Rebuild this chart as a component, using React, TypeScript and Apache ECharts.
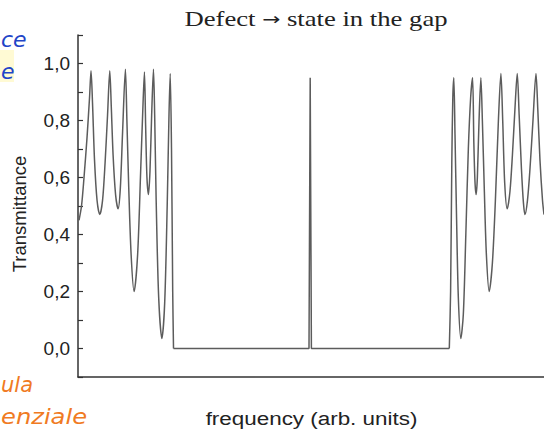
import React, { useEffect, useRef } from "react";
import * as echarts from "echarts";

// Frequency (arb. units) and transmittance
const leftBandFreq = [1, 3.5, 6, 9, 11.5, 13, 14.5, 16.5, 19, 21.7, 24.5, 27, 29.5, 31.7, 33.2, 35, 37.5, 40, 42.2, 44.5, 47.3, 48.8, 50.5, 53, 56, 59.5, 62.5, 64.8, 66.3, 67.5, 68.8, 70.3, 71.8, 73.5, 75.3, 76.5, 78, 80.5, 83.7, 86.5, 89, 90.8, 92, 93.3, 94.5, 95.3];
const leftBandT = [0.45, 0.5, 0.6, 0.74, 0.88, 0.975, 0.86, 0.66, 0.52, 0.47, 0.52, 0.65, 0.82, 0.975, 0.85, 0.68, 0.54, 0.49, 0.56, 0.76, 0.98, 0.8, 0.58, 0.33, 0.2, 0.33, 0.62, 0.85, 0.97, 0.78, 0.6, 0.54, 0.62, 0.82, 0.98, 0.82, 0.52, 0.18, 0.035, 0.16, 0.5, 0.82, 0.965, 0.7, 0.2, 0.0];

const gapFreq = [95.3, 230.5, 231.7, 232.9, 370.5];
const gapT = [0.0, 0.0, 0.95, 0.0, 0.0];

const rightBandFreq = [370.5, 371.8, 373, 374, 375, 376.2, 377.8, 379.5, 382, 384.5, 387, 389.5, 391.8, 393.7, 395, 396.2, 397.3, 398.5, 400, 402, 403.5, 405.5, 407.5, 410.3, 413.5, 416.5, 419.5, 422, 423.8, 425.8, 428.3, 431, 433.5, 436, 438.3, 440.2, 442.5, 444.5, 446, 448.5, 451, 454, 457, 458.8, 461, 463.5, 465];
const rightBandT = [0, 0.2, 0.65, 0.88, 0.95, 0.75, 0.45, 0.18, 0.035, 0.12, 0.4, 0.7, 0.88, 0.95, 0.72, 0.58, 0.54, 0.6, 0.78, 0.95, 0.8, 0.55, 0.33, 0.2, 0.3, 0.52, 0.8, 0.965, 0.8, 0.58, 0.49, 0.55, 0.68, 0.84, 0.965, 0.82, 0.63, 0.51, 0.47, 0.52, 0.63, 0.8, 0.965, 0.84, 0.66, 0.52, 0.47];

const yTickLabels = ["0,0", "0,2", "0,4", "0,6", "0,8", "1,0"];

const zip = (xs: number[], ys: number[]) => xs.map((x, i) => [x, ys[i]]);

const lineStyle = { color: "#5c5c5c", width: 1.5 };

export default function App() {
  const ref = useRef<HTMLDivElement>(null);
  useEffect(() => {
    document.body.style.margin = "0";
    const chart = echarts.init(ref.current!, null, { renderer: "svg" });
    const txt = (extra: any) => ({
      align: "left",
      verticalAlign: "middle",
      textAlign: "left",
      textVerticalAlign: "middle",
      ...extra,
    });
    chart.setOption({
      animation: false,
      backgroundColor: "#ffffff",
      grid: { left: 78, right: 0, top: 35, bottom: 59, containLabel: false },
      xAxis: {
        type: "value",
        min: 0,
        max: 465,
        axisLine: { onZero: false, lineStyle: { color: "#333", width: 1.5 } },
        axisTick: { show: false },
        axisLabel: { show: false },
        splitLine: { show: false },
      },
      yAxis: {
        type: "value",
        min: -0.1,
        max: 1.1,
        interval: 0.1,
        axisLine: { show: true, lineStyle: { color: "#333", width: 1.5 } },
        axisTick: { show: true, inside: true, length: 5, lineStyle: { color: "#333", width: 1.2 } },
        splitLine: { show: false },
        axisLabel: {
          margin: 8,
          fontFamily: "Liberation Sans",
          fontSize: 19,
          color: "#222",
          formatter: (v: number) => {
            const k = Math.round(v * 10);
            if (k < 0 || k > 10 || k % 2 !== 0) return "";
            return yTickLabels[k / 2];
          },
        },
      },
      graphic: [
        { type: "rect", shape: { x: 0, y: 50, width: 14, height: 32 }, style: { fill: "#fff6b0", opacity: 0.55 }, z: -1 },
        { type: "text", x: 1, y: 39, style: txt({ text: "ce", fill: "#1f45c8", fontSize: 22, fontStyle: "italic", fontFamily: "DejaVu Sans" }) },
        { type: "text", x: 1, y: 71, style: txt({ text: "e", fill: "#1f45c8", fontSize: 22, fontStyle: "italic", fontFamily: "DejaVu Sans" }) },
        { type: "text", x: 1, y: 385, style: txt({ text: "ula", fill: "#f07a22", fontSize: 21, fontStyle: "italic", fontFamily: "DejaVu Sans", fontWeight: "lighter" }) },
        { type: "text", x: 1, y: 416, scaleX: 1.1, style: txt({ text: "enziale", fill: "#f07a22", fontSize: 22, fontStyle: "italic", fontFamily: "DejaVu Sans", fontWeight: "lighter" }) },
        {
          type: "text",
          x: 316,
          y: 19,
          scaleX: 1.27,
          style: {
            text: "Defect {a|\u2192} state in the gap",
            fill: "#222",
            fontSize: 21,
            fontFamily: "Liberation Serif",
            align: "center",
            verticalAlign: "middle",
            textAlign: "center",
            textVerticalAlign: "middle",
            rich: { a: { fontFamily: "DejaVu Sans", fontSize: 17, fill: "#222" } },
          },
        },
        {
          type: "text",
          x: 19,
          y: 214,
          rotation: Math.PI / 2,
          style: { text: "Transmittance", fill: "#222", fontSize: 18.5, fontFamily: "Liberation Sans", align: "center", verticalAlign: "middle", textAlign: "center", textVerticalAlign: "middle" },
        },
        {
          type: "text",
          x: 311.5,
          y: 418,
          scaleX: 1.18,
          style: { text: "frequency (arb. units)", fill: "#222", fontSize: 19, fontFamily: "Liberation Sans", align: "center", verticalAlign: "middle", textAlign: "center", textVerticalAlign: "middle" },
        },
      ],
      series: [
        { type: "line", data: zip(leftBandFreq, leftBandT), showSymbol: false, smooth: 0.3, lineStyle },
        { type: "line", data: zip(gapFreq, gapT), showSymbol: false, smooth: false, lineStyle },
        { type: "line", data: zip(rightBandFreq, rightBandT), showSymbol: false, smooth: 0.3, lineStyle },
      ],
    });
    return () => chart.dispose();
  }, []);
  return <div ref={ref} style={{ position: "fixed", left: 0, top: 0, width: 544, height: 436 }} />;
}
